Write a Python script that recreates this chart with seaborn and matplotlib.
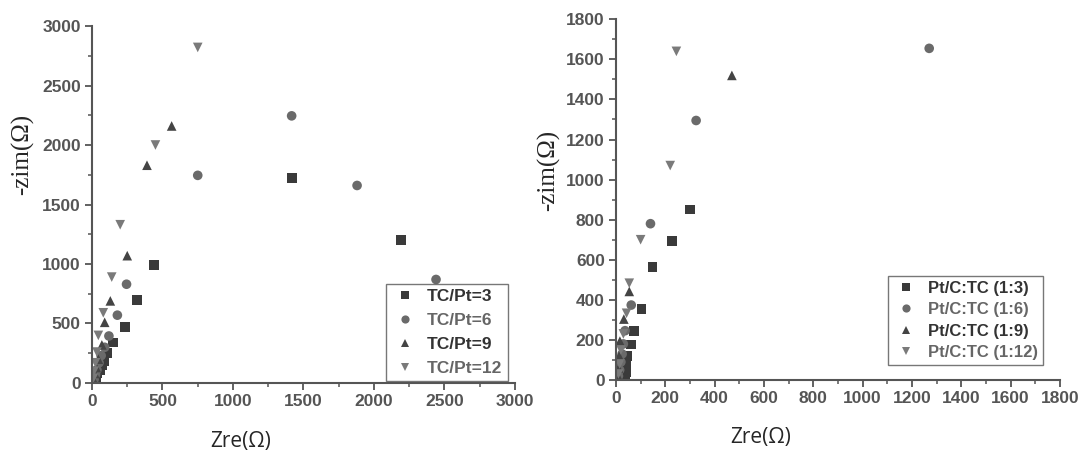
import pandas as pd
import seaborn as sns
import matplotlib.pyplot as plt
from matplotlib.ticker import MultipleLocator

# Left panel: TC/Pt ratio series (Zre, -Zim) in ohm
tc3_x = [20, 30, 40, 55, 70, 85, 110, 150, 235, 320, 440, 1420, 2190]
tc3_y = [20, 50, 80, 110, 150, 185, 250, 340, 470, 700, 990, 1725, 1200]
tc6_x = [15, 25, 35, 50, 65, 90, 120, 180, 245, 750, 1416, 1880, 2440]
tc6_y = [30, 70, 110, 170, 230, 300, 395, 570, 830, 1745, 2245, 1660, 870]
tc9_x = [10, 20, 30, 45, 70, 90, 130, 250, 390, 565]
tc9_y = [30, 80, 130, 200, 320, 510, 690, 1070, 1830, 2160]
tc12_x = [10, 15, 25, 35, 45, 80, 140, 200, 450, 750]
tc12_y = [40, 100, 170, 260, 400, 590, 890, 1330, 2000, 2820]
left_labels = ['TC/Pt=3', 'TC/Pt=6', 'TC/Pt=9', 'TC/Pt=12']

# Right panel: Pt/C:TC series
pc3_x = [38, 40, 43, 47, 61, 74, 104, 148, 226, 300]
pc3_y = [15, 40, 75, 120, 178, 244, 353, 563, 695, 850]
pc6_x = [10, 15, 20, 25, 30, 37, 62, 140, 325, 1270]
pc6_y = [20, 50, 90, 130, 180, 246, 374, 780, 1295, 1655]
pc9_x = [8, 10, 13, 16, 32, 54, 470]
pc9_y = [20, 60, 120, 194, 304, 442, 1520]
pc12_x = [10, 15, 20, 30, 43, 54, 100, 220, 245]
pc12_y = [30, 80, 150, 230, 333, 483, 700, 1070, 1640]
right_labels = ['Pt/C:TC (1:3)', 'Pt/C:TC (1:6)', 'Pt/C:TC (1:9)', 'Pt/C:TC (1:12)']

marker_shapes = ['s', 'o', '^', 'v']
marker_colors = ['#3a3a3a', '#6a6a6a', '#444444', '#7a7a7a']
text_colors = ['#333333', '#666666', '#333333', '#666666']


def build_frame(xs, ys, labels):
    parts = []
    for x, y, lab in zip(xs, ys, labels):
        parts.append(pd.DataFrame({'zre': x, 'zim': y, 'sample': lab}))
    return pd.concat(parts, ignore_index=True)


def draw_panel(ax, df, labels, lim, major, minor, xlab_pos, ylab_pos,
               leg_anchor, leg_spacing, leg_size):
    sns.scatterplot(
        data=df, x='zre', y='zim', hue='sample', style='sample',
        hue_order=labels, style_order=labels,
        palette=dict(zip(labels, marker_colors)),
        markers=dict(zip(labels, marker_shapes)),
        s=48, linewidth=0, ax=ax
    )
    ax.set_xlim(0, lim)
    ax.set_ylim(0, lim)
    for axis in (ax.xaxis, ax.yaxis):
        axis.set_major_locator(MultipleLocator(major))
        axis.set_minor_locator(MultipleLocator(minor))
    ax.tick_params(which='major', length=5, width=1.3, color='#555555',
                   labelsize=12.5, labelcolor='#555555', pad=3)
    ax.tick_params(which='minor', length=3, width=1.1, color='#555555')
    for lab in ax.get_xticklabels() + ax.get_yticklabels():
        lab.set_fontweight('bold')
    for side in ('left', 'bottom'):
        ax.spines[side].set_color('#555555')
        ax.spines[side].set_linewidth(1.5)
    sns.despine(ax=ax)

    ax.set_xlabel('Zre(Ω)', fontsize=15, family='Open Sans')
    ax.set_ylabel('-zim(Ω)', fontsize=18, family='Liberation Serif')
    ax.xaxis.set_label_coords(*xlab_pos)
    ax.yaxis.set_label_coords(*ylab_pos)

    sns.move_legend(
        ax, 'lower right', bbox_to_anchor=leg_anchor, borderaxespad=0,
        title=None, frameon=True, fancybox=False, fontsize=leg_size,
        labelspacing=leg_spacing, handletextpad=0.5, borderpad=0.3,
        markerscale=0.85, handlelength=1.6
    )
    leg = ax.get_legend()
    leg.get_frame().set_edgecolor('#555555')
    leg.get_frame().set_linewidth(1.0)
    for txt, col in zip(leg.get_texts(), text_colors):
        txt.set_color(col)
        txt.set_fontweight('bold')


sns.set_style('ticks')
plt.rcParams['font.family'] = ['Liberation Sans', 'DejaVu Sans']

fig = plt.figure(figsize=(10.81, 4.54), dpi=100)
ax1 = fig.add_axes([0.0851, 0.1564, 0.3913, 0.7863])
ax2 = fig.add_axes([0.5698, 0.1630, 0.4107, 0.7945])

left_df = build_frame([tc3_x, tc6_x, tc9_x, tc12_x],
                      [tc3_y, tc6_y, tc9_y, tc12_y], left_labels)
right_df = build_frame([pc3_x, pc6_x, pc9_x, pc12_x],
                       [pc3_y, pc6_y, pc9_y, pc12_y], right_labels)

draw_panel(ax1, left_df, left_labels, 3000, 500, 250,
           (0.352, -0.135), (-0.137, 0.64), (0.983, 0.006), 0.5, 12.5)
draw_panel(ax2, right_df, right_labels, 1800, 200, 100,
           (0.327, -0.13), (-0.126, 0.58), (0.962, 0.042), 0.38, 12)

fig.savefig('out.png', dpi=100)
